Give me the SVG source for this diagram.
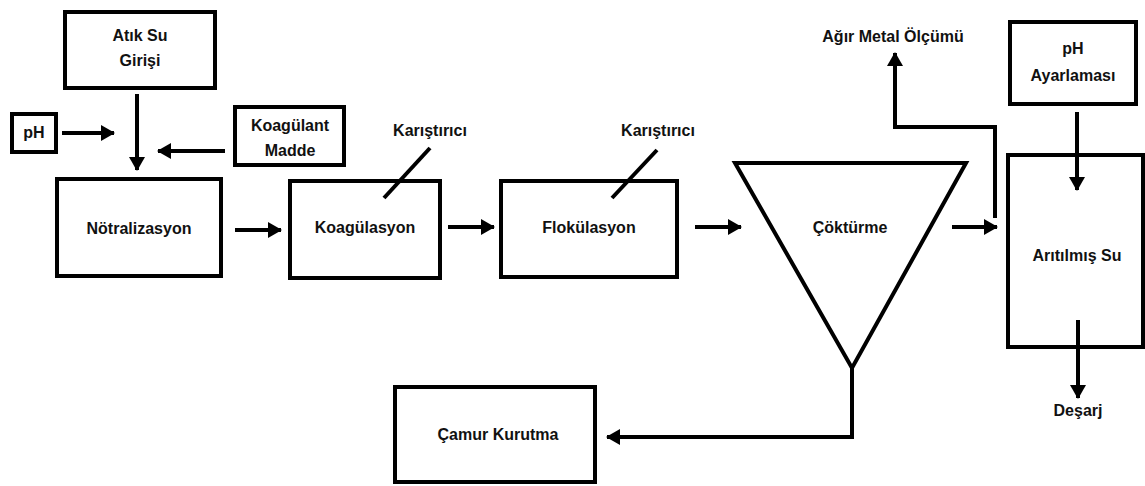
<svg xmlns="http://www.w3.org/2000/svg" width="1145" height="486" viewBox="0 0 1145 486">
<style>
.box{fill:#fff;stroke:#000;stroke-width:4}
.t{font-family:"Liberation Sans",Arial,sans-serif;font-weight:bold;font-size:16px;fill:#111;text-anchor:middle;dominant-baseline:central}
.c{fill:none;stroke:#000;stroke-width:4}
.m{fill:none;stroke:#000;stroke-width:4}
</style>
<defs>
<marker id="ah" markerUnits="userSpaceOnUse" markerWidth="14" markerHeight="16" refX="13" refY="8" orient="auto">
<path d="M0,0 L14,8 L0,16 Z" fill="#000"/>
</marker>
</defs>
<rect width="1145" height="486" fill="#fff"/>
<g id="atik"><rect class="box" x="65" y="12" width="150" height="76"/><text class="t" x="140" y="35">Atık Su</text><text class="t" x="140" y="60">Girişi</text></g>
<g id="ph"><rect class="box" x="12" y="114" width="44" height="38"/><text class="t" x="34" y="132">pH</text></g>
<g id="koagulant"><rect class="box" x="235" y="107" width="109" height="58"/><text class="t" x="290" y="125">Koagülant</text><text class="t" x="290" y="150">Madde</text></g>
<g id="notr"><rect class="box" x="57" y="179" width="164" height="97"/><text class="t" x="139" y="228">Nötralizasyon</text></g>
<g id="koag"><rect class="box" x="290" y="181" width="150" height="97"/><text class="t" x="365" y="227">Koagülasyon</text></g>
<g id="flok"><rect class="box" x="501" y="181" width="176" height="96"/><text class="t" x="589" y="227">Flokülasyon</text></g>
<g id="cokt"><polygon points="735,163 966,163 852,368" fill="#fff" stroke="#000" stroke-width="4"/><text class="t" x="850" y="227">Çöktürme</text></g>
<g id="phay"><rect class="box" x="1010" y="22" width="126" height="82"/><text class="t" x="1073" y="48">pH</text><text class="t" x="1073" y="75">Ayarlaması</text></g>
<g id="arit"><rect class="box" x="1008" y="155" width="135" height="192"/><text class="t" x="1077" y="255">Arıtılmış Su</text></g>
<g id="camur"><rect class="box" x="395" y="387" width="200" height="95"/><text class="t" x="498" y="434">Çamur Kurutma</text></g>
<g id="mixers">
<line class="m" x1="430" y1="148" x2="384" y2="198"/><text class="t" x="430" y="130">Karıştırıcı</text>
<line class="m" x1="657" y1="150" x2="612" y2="198"/><text class="t" x="658" y="130">Karıştırıcı</text>
</g>
<g id="labels"><text class="t" x="893" y="36">Ağır Metal Ölçümü</text><text class="t" x="1078" y="410">Deşarj</text></g>
<g id="connectors">
<line class="c" x1="137" y1="94" x2="137" y2="170" marker-end="url(#ah)"/>
<line class="c" x1="62" y1="133" x2="114" y2="133" marker-end="url(#ah)"/>
<line class="c" x1="225" y1="151" x2="158" y2="151" marker-end="url(#ah)"/>
<line class="c" x1="235" y1="230" x2="281" y2="230" marker-end="url(#ah)"/>
<line class="c" x1="448" y1="227" x2="494" y2="227" marker-end="url(#ah)"/>
<line class="c" x1="695" y1="227" x2="741" y2="227" marker-end="url(#ah)"/>
<line class="c" x1="952" y1="227" x2="997" y2="227" marker-end="url(#ah)"/>
<polyline class="c" points="995,218 995,127 895,127 895,53" marker-end="url(#ah)"/>
<line class="c" x1="1077" y1="112" x2="1077" y2="190" marker-end="url(#ah)"/>
<line class="c" x1="1078" y1="320" x2="1078" y2="398" marker-end="url(#ah)"/>
<polyline class="c" points="852,368 852,437 607,437" marker-end="url(#ah)"/>
</g>
</svg>
